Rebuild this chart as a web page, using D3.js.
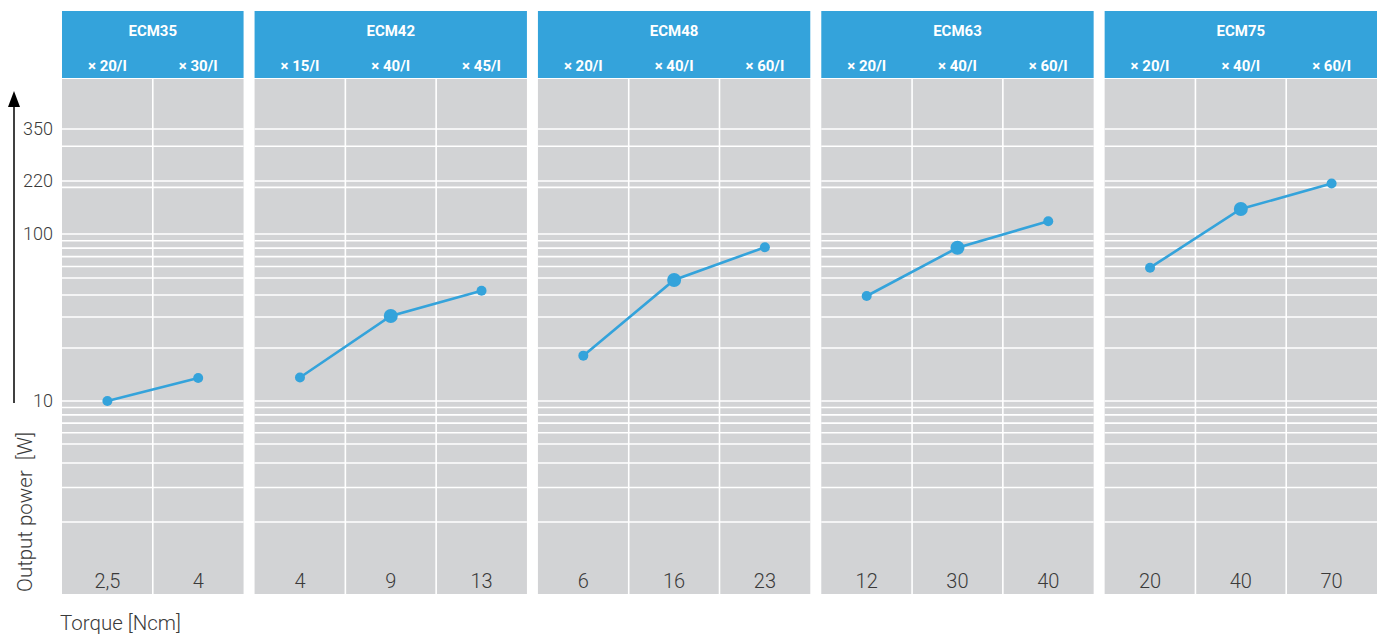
<!DOCTYPE html>
<html>
<head>
<meta charset="utf-8">
<script src="https://cdnjs.cloudflare.com/ajax/libs/d3/7.9.0/d3.min.js"></script>
<style>
  body { margin: 0; background: #fff; }
  svg { display: block; font-family: Roboto, "Noto Sans", sans-serif; }
</style>
</head>
<body>
<div id="chart"></div>
<script>
// motor models and their gear ratios
const models = ["ECM35", "ECM42", "ECM48", "ECM63", "ECM75"];
const ratios = [
  ["× 20/I", "× 30/I"],
  ["× 15/I", "× 40/I", "× 45/I"],
  ["× 20/I", "× 40/I", "× 60/I"],
  ["× 20/I", "× 40/I", "× 60/I"],
  ["× 20/I", "× 40/I", "× 60/I"]
];
// torque [Ncm] shown under each column
const torque = [
  ["2,5", "4"],
  ["4", "9", "13"],
  ["6", "16", "23"],
  ["12", "30", "40"],
  ["20", "40", "70"]
];
// output power [W]
const power = [
  [10, 13.5],
  [13.6, 30.4, 42.3],
  [18.1, 48.7, 81.2],
  [39.5, 80.5, 121],
  [58.8, 145, 212]
];
// which point is drawn larger in each panel
const nominal = [-1, 1, 1, 1, 1];

const powerTicks = [10, 100, 220, 350];
const powerGrid = [2, 3, 4, 5, 6, 7, 8, 9, 10, 20, 30, 40, 50, 60, 70, 80, 90, 100, 200, 220, 300, 350];

const width = 1380, height = 635;
const left = 62, right = 1377, gap = 11;
const headTop = 11, headBottom = 78, plotTop = 79, plotBottom = 594;
const blue = "#34a3db", grey = "#d2d3d5", ink = "#3a3a3a";

const svg = d3.select("#chart").append("svg")
  .attr("width", width).attr("height", height);

// the printed scale is a hand-drawn log axis, so piecewise log it is
const y = d3.scaleLog()
  .domain([1, 2, 5, 10, 50, 100, 220, 350])
  .range([plotBottom, plotBottom - 72, plotBottom - 150, plotBottom - 193,
          plotBottom - 316, plotBottom - 360, plotBottom - 413, plotBottom - 465]);

const nCols = d3.sum(ratios, r => r.length);
const colW = (right - left - gap * (models.length - 1)) / nCols;

let cursor = left;
models.forEach((m, p) => {
  const cols = ratios[p];
  const x0 = cursor, x1 = cursor + colW * cols.length;
  cursor = x1 + gap;

  const x = d3.scaleBand().domain(d3.range(cols.length)).range([x0, x1]);
  const cx = i => x(i) + x.bandwidth() / 2;
  const g = svg.append("g");

  // header
  g.append("rect").attr("x", x0).attr("y", headTop)
    .attr("width", x1 - x0).attr("height", headBottom - headTop).attr("fill", blue);
  g.append("text").attr("x", (x0 + x1) / 2).attr("y", 36)
    .attr("text-anchor", "middle").attr("fill", "#fff")
    .attr("font-size", 15).attr("font-weight", 700).text(m);
  g.selectAll(".ratio").data(cols).join("text")
    .attr("x", (d, i) => cx(i)).attr("y", 70.5)
    .attr("text-anchor", "middle").attr("fill", "#fff")
    .attr("font-size", 15).attr("font-weight", 700).text(d => d);

  // plot area
  g.append("rect").attr("x", x0).attr("y", plotTop)
    .attr("width", x1 - x0).attr("height", plotBottom - plotTop).attr("fill", grey);
  g.selectAll(".grid").data(powerGrid).join("line")
    .attr("x1", x0).attr("x2", x1)
    .attr("y1", d => y(d)).attr("y2", d => y(d))
    .attr("stroke", "#fff").attr("stroke-width", 1.6);
  g.selectAll(".sep").data(d3.range(1, cols.length)).join("line")
    .attr("x1", d => x(d)).attr("x2", d => x(d))
    .attr("y1", plotTop).attr("y2", plotBottom)
    .attr("stroke", "#fff").attr("stroke-width", 1.6);

  // torque labels
  g.selectAll(".tq").data(torque[p]).join("text")
    .attr("x", (d, i) => cx(i)).attr("y", 588)
    .attr("text-anchor", "middle").attr("fill", ink)
    .attr("font-size", 20).attr("font-weight", 300).text(d => d);

  // power curve
  const pts = power[p].map((v, i) => [cx(i), y(v)]);
  g.append("path").attr("d", d3.line()(pts))
    .attr("fill", "none").attr("stroke", blue).attr("stroke-width", 2.6);
  g.selectAll(".pt").data(pts).join("circle")
    .attr("cx", d => d[0]).attr("cy", d => d[1])
    .attr("r", (d, i) => i === nominal[p] ? 7 : 5)
    .attr("fill", blue);
});

// y tick labels
svg.selectAll(".ytick").data(powerTicks).join("text")
  .attr("x", 53).attr("y", d => y(d)).attr("dy", "0.36em")
  .attr("text-anchor", "end").attr("fill", ink)
  .attr("font-size", 18).attr("font-weight", 300).text(d => d);

// y axis arrow
svg.append("line").attr("x1", 14).attr("x2", 14).attr("y1", 403).attr("y2", 104)
  .attr("stroke", "#000").attr("stroke-width", 1.5);
svg.append("path").attr("d", "M14,91 L8,107 L20,107 Z").attr("fill", "#000");

svg.append("text").attr("transform", "translate(32,592) rotate(-90)")
  .style("white-space", "pre")
  .attr("fill", ink).attr("font-size", 20.5).attr("font-weight", 300)
  .text("Output power  [W]");
svg.append("text").attr("x", 60).attr("y", 630)
  .attr("fill", ink).attr("font-size", 20.5).attr("font-weight", 300)
  .text("Torque [Ncm]");
</script>
</body>
</html>
